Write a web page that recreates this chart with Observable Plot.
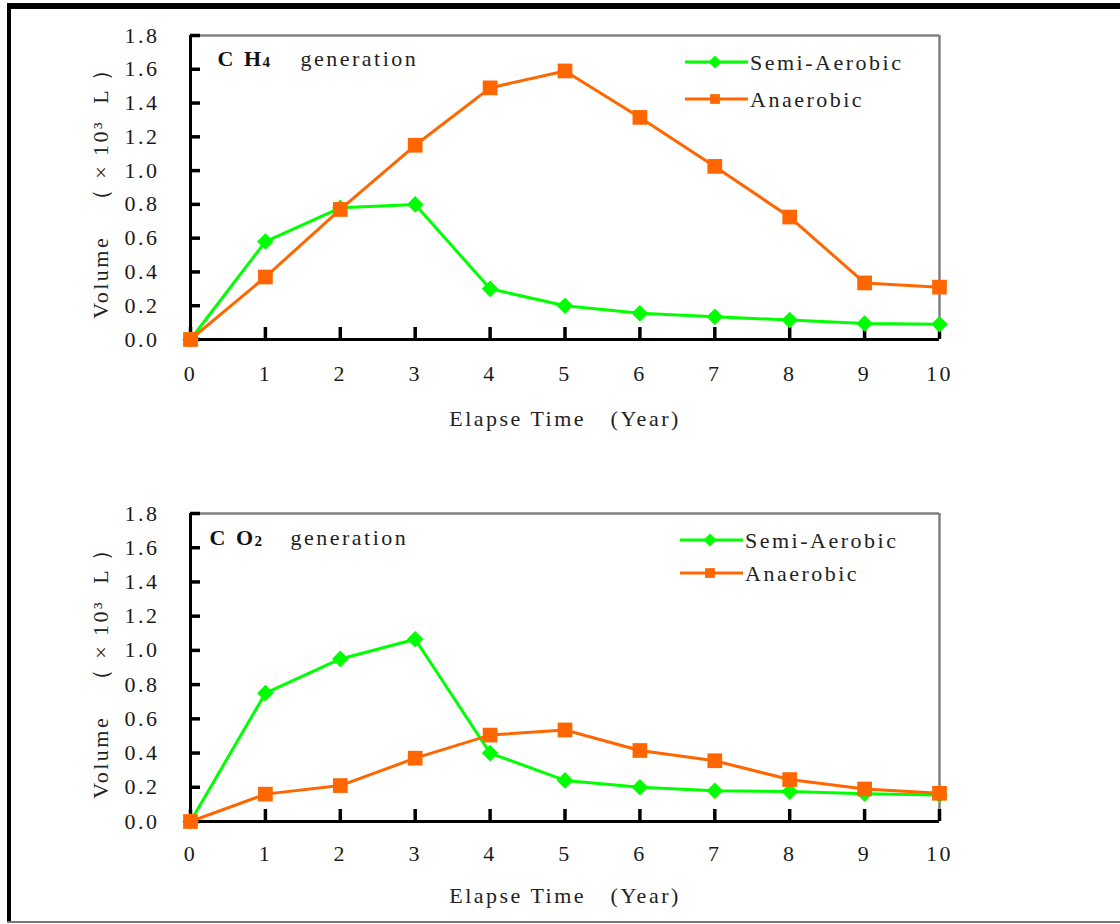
<!DOCTYPE html>
<html><head><meta charset="utf-8">
<script src="https://cdn.jsdelivr.net/npm/d3@7"></script>
<script src="https://cdn.jsdelivr.net/npm/@observablehq/plot@0.6"></script>
<style>
html,body{margin:0;padding:0;background:#fff;}
#page{position:relative;width:1120px;height:924px;overflow:hidden;background:#fff;}
.plotbox{position:absolute;left:0;}
.bd{position:absolute;}
</style></head><body><div id="page">
<div id="p1" class="plotbox" style="top:0"></div>
<div id="p2" class="plotbox" style="top:460px"></div>
<div class="bd" style="left:7px;top:3px;right:0;height:6px;background:#000"></div>
<div class="bd" style="left:7px;top:3px;width:4px;height:919px;background:#000"></div>
<div class="bd" style="left:7px;top:921px;right:0;height:2px;background:#777"></div>
</div>
<script>
// ---- data ----
const years = [0, 1, 2, 3, 4, 5, 6, 7, 8, 9, 10];
const yTicks = [0, 0.2, 0.4, 0.6, 0.8, 1.0, 1.2, 1.4, 1.6, 1.8];
const seriesNames = ["Semi-Aerobic", "Anaerobic"];
const seriesColors = ["#00ff00", "#ff6600"];
const ch4Semi  = [0, 0.58, 0.78, 0.80, 0.30, 0.20, 0.155, 0.135, 0.115, 0.095, 0.09];
const ch4Anaer = [0, 0.37, 0.77, 1.15, 1.49, 1.59, 1.315, 1.025, 0.725, 0.335, 0.31];
const co2Semi  = [0, 0.75, 0.95, 1.065, 0.40, 0.24, 0.20, 0.18, 0.175, 0.162, 0.155];
const co2Anaer = [0, 0.16, 0.21, 0.37, 0.505, 0.535, 0.415, 0.355, 0.245, 0.19, 0.165];
const xLabel = "Elapse Time　(Year)";
const yLabel = "Volume　（ × 10³  L ）";
const titleGas1 = ["C H", "4"];
const titleGas2 = ["C O", "2"];
const titleWord = "generation";

const FONT = "'Liberation Serif', 'Times New Roman', serif";
const ML = 190, MR = 181, W = 1120;

function rowsOf(values, name) {
  return years.map((t, i) => ({t, v: values[i], s: name}));
}

function makeChart(o) {
  const semi = rowsOf(o.semi, seriesNames[0]);
  const anaer = rowsOf(o.anaer, seriesNames[1]);
  const frameW = W - ML - MR;
  const frameH = o.frameBottom - o.marginTop;
  const plot = Plot.plot({
    width: W,
    height: o.height,
    marginTop: o.marginTop,
    marginBottom: o.height - o.frameBottom,
    marginLeft: ML,
    marginRight: MR,
    style: {fontFamily: FONT, fontSize: "22px", background: "transparent", overflow: "visible", letterSpacing: "2.5px"},
    x: {domain: [0, 10]},
    y: {domain: [0, 1.8]},
    marks: [
      Plot.ruleY([1.8], {stroke: "#808080", strokeWidth: 2.5}),
      Plot.ruleX([10], {stroke: "#808080", strokeWidth: 2.5}),
      // inward tick marks
      Plot.tickY(yTicks, {y: d => d, stroke: "#000", strokeWidth: 3.5, insetRight: frameW - 10}),
      Plot.tickX(years, {x: d => d, stroke: "#000", strokeWidth: 3.5, insetTop: frameH - 12}),
      Plot.ruleX([0], {stroke: "#000", strokeWidth: 3}),
      Plot.ruleY([0], {stroke: "#000", strokeWidth: 3}),
      // tick labels
      Plot.axisY({ticks: yTicks, tickSize: 0, tickPadding: 31, tickFormat: d3.format(".1f"), label: null, fill: "#1a1a1a"}),
      Plot.axisX({ticks: years, tickSize: 0, tickPadding: o.xTickPad, tickFormat: d3.format("d"), label: null, fill: "#1a1a1a"}),
      Plot.text([xLabel], {text: d => d, frameAnchor: "bottom", lineAnchor: "middle", dy: o.xLabelDy, fill: "#222"}),
      Plot.text([yLabel], {text: d => d, frameAnchor: "left", rotate: -90, textAnchor: "middle", lineAnchor: "middle", dx: -90, fill: "#222"}),
      Plot.text([o.gas[0]], {text: d => d, frameAnchor: "top-left", textAnchor: "start", lineAnchor: "middle", dx: o.titleDx, dy: o.titleDy, fontWeight: "bold", fontSize: 22, fill: "#111"}),
      Plot.text([o.gas[1]], {text: d => d, frameAnchor: "top-left", textAnchor: "start", lineAnchor: "middle", dx: o.titleDx + 45, dy: o.titleDy + 4, fontWeight: "bold", fontSize: 15, fill: "#111"}),
      Plot.text([titleWord], {text: d => d, frameAnchor: "top-left", textAnchor: "start", lineAnchor: "middle", dx: o.titleWordDx, dy: o.titleDy, fill: "#222"}),
      Plot.line(semi, {x: "t", y: "v", stroke: seriesColors[0], strokeWidth: 3}),
      Plot.dot(semi, {x: "t", y: "v", fill: seriesColors[0], symbol: "diamond2", r: 7.5}),
      Plot.line(anaer, {x: "t", y: "v", stroke: seriesColors[1], strokeWidth: 3}),
      Plot.dot(anaer, {x: "t", y: "v", fill: seriesColors[1], symbol: "square", r: 8.3})
    ]
  });
  // legend
  const g = d3.select(plot).append("g").attr("font-family", FONT).attr("font-size", 22)
    .attr("text-anchor", "start").style("letter-spacing", "2.5px");
  const syms = [d3.symbolDiamond2, d3.symbolSquare];
  const sizes = [110, 95];
  seriesNames.forEach((name, i) => {
    const y = o.legendTop + i * o.legendGap;
    g.append("line").attr("x1", o.legendX).attr("x2", o.legendX + 63).attr("y1", y).attr("y2", y)
      .attr("stroke", seriesColors[i]).attr("stroke-width", 3);
    g.append("path").attr("d", d3.symbol(syms[i], sizes[i])()).attr("transform", `translate(${o.legendX + 30},${y})`)
      .attr("fill", seriesColors[i]);
    g.append("text").attr("x", o.legendX + 65).attr("y", y).attr("dy", "0.35em").attr("fill", "#222").text(name);
  });
  return plot;
}

document.getElementById("p1").appendChild(makeChart({
  semi: ch4Semi, anaer: ch4Anaer, height: 440, marginTop: 35, frameBottom: 339,
  xTickPad: 26, xLabelDy: 79, gas: titleGas1, titleDx: 27, titleDy: 23, titleWordDx: 110,
  legendX: 685, legendTop: 62, legendGap: 37
}));
document.getElementById("p2").appendChild(makeChart({
  semi: co2Semi, anaer: co2Anaer, height: 461, marginTop: 53, frameBottom: 361,
  xTickPad: 24, xLabelDy: 74, gas: titleGas2, titleDx: 19, titleDy: 24, titleWordDx: 100,
  legendX: 680, legendTop: 80, legendGap: 33
}));
</script>
</body></html>
